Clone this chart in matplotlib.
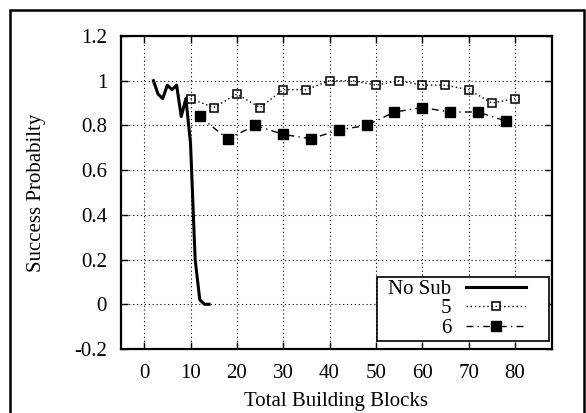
import numpy as np
import matplotlib
matplotlib.use('Agg')
import matplotlib.pyplot as plt
from matplotlib.patches import Rectangle

plt.rcParams['font.family'] = ['Liberation Serif', 'DejaVu Serif']

# data
nosub_x = [2, 3, 4, 5, 6, 7, 8, 9, 10, 11, 12, 13, 14]
nosub_y = [1.0, 0.94, 0.92, 0.98, 0.96, 0.98, 0.84, 0.92, 0.72, 0.20, 0.02, 0.0, 0.0]

s5_x = [10, 15, 20, 25, 30, 35, 40, 45, 50, 55, 60, 65, 70, 75, 80]
s5_y = [0.92, 0.88, 0.94, 0.88, 0.96, 0.96, 1.0, 1.0, 0.98, 1.0, 0.98, 0.98, 0.96, 0.90, 0.92]

s6_x = [12, 18, 24, 30, 36, 42, 48, 54, 60, 66, 72, 78]
s6_y = [0.84, 0.74, 0.80, 0.76, 0.74, 0.78, 0.80, 0.86, 0.88, 0.86, 0.86, 0.82]

xticks = [0, 10, 20, 30, 40, 50, 60, 70, 80]
yticks = [-0.2, 0, 0.2, 0.4, 0.6, 0.8, 1, 1.2]
ytick_labels = ['-0.2', '0', '0.2', '0.4', '0.6', '0.8', '1', '1.2']

fs = 15

fig = plt.figure(figsize=(5.86, 4.13), dpi=100)
ax = fig.add_axes([121/586, 1 - 349/413, 431/586, 313/413])

ax.plot(nosub_x, nosub_y, color='black', lw=2.2, label='No Sub')
ax.plot(s5_x, s5_y, color='black', lw=1.0, ls=(0, (1, 2)), marker='s', ms=6,
        mfc='none', mec='black', mew=1.1, label='5')
ax.plot(s6_x, s6_y, color='black', lw=1.0, ls=(0, (5, 3, 1, 3)), marker='s', ms=6.5,
        mfc='black', mec='black', label='6')

ax.set_xlim(-5, 88)
ax.set_ylim(-0.2, 1.2)
ax.set_xticks(xticks)
ax.set_yticks(yticks)
ax.set_yticklabels(ytick_labels)
ax.tick_params(direction='in', top=True, right=True, length=5, width=1,
               labelsize=fs)
ax.tick_params(axis='y', pad=10)
ax.tick_params(axis='x', pad=11)
ax.grid(True, color='black', ls=(0, (1, 2.5)), lw=0.8)
for sp in ax.spines.values():
    sp.set_linewidth(1.6)

ax.set_xlabel('Total Building Blocks', fontsize=fs, labelpad=6)
ax.set_ylabel('Success Probabilty', fontsize=fs, labelpad=20)

# legend box drawn by hand, gnuplot style
box = Rectangle((0.594, 0.026), 0.399, 0.204, transform=ax.transAxes,
                facecolor='white', edgecolor='black', lw=1.2, zorder=5)
ax.add_patch(box)

leg = ax.legend(loc='lower right', markerfirst=False, fontsize=fs, frameon=False,
                handlelength=2.9, handletextpad=0.7, labelspacing=0.0,
                borderpad=0, borderaxespad=0, bbox_to_anchor=(0.94, 0.035))
leg.set_zorder(6)
for t in leg.get_texts():
    t.set_ha('right')
leg._legend_box.align = 'right'

fig.patches.append(Rectangle((10/586, -0.05), 574/586, 1 - 10/413 + 0.05,
                             transform=fig.transFigure, fill=False,
                             edgecolor='black', lw=1.8))

fig.savefig('out.png', dpi=100)
